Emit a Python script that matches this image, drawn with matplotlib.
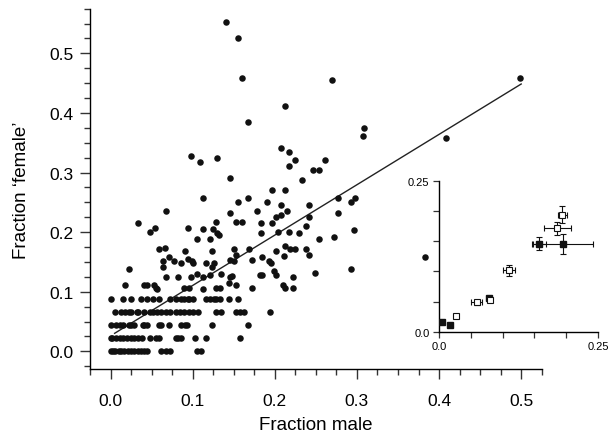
"""Fraction 'female' vs fraction male, with inset of binned means."""

import matplotlib
matplotlib.use("Agg")
import matplotlib.pyplot as plt
from matplotlib.ticker import MultipleLocator

plt.rcParams["font.family"] = ["Liberation Sans", "DejaVu Sans"]
plt.rcParams["axes.linewidth"] = 1.0

# scattered points (fraction male, fraction 'female')
male_frac = [
    0.141, 0.155, 0.160, 0.270, 0.499, 0.212, 0.167, 0.309, 0.307, 0.408,
    0.208, 0.217, 0.098, 0.130, 0.109, 0.224, 0.261, 0.217, 0.247, 0.254,
    0.146, 0.233, 0.197, 0.212, 0.112, 0.167, 0.277, 0.298, 0.155, 0.190,
    0.293, 0.208, 0.242, 0.068, 0.178, 0.215, 0.146, 0.277, 0.201, 0.208,
    0.242, 0.128, 0.153, 0.160, 0.034, 0.183, 0.197, 0.238, 0.054, 0.094,
    0.048, 0.125, 0.112, 0.130, 0.132, 0.183, 0.204, 0.217, 0.229, 0.296,
    0.105, 0.121, 0.254, 0.272, 0.212, 0.219, 0.224, 0.238, 0.242, 0.059,
    0.066, 0.091, 0.123, 0.150, 0.169, 0.201, 0.153, 0.211, 0.071, 0.383,
    0.064, 0.064, 0.077, 0.086, 0.094, 0.099, 0.100, 0.116, 0.126, 0.124,
    0.146, 0.150, 0.172, 0.185, 0.193, 0.195, 0.022, 0.293, 0.068, 0.082,
    0.098, 0.112, 0.222, 0.105, 0.121, 0.135, 0.146, 0.148, 0.182, 0.185,
    0.199, 0.201, 0.249, 0.018, 0.041, 0.045, 0.053, 0.055, 0.057, 0.089,
    0.096, 0.112, 0.128, 0.133, 0.144, 0.153, 0.172, 0.210, 0.212, 0.222,
]
female_frac = [
    0.552, 0.525, 0.459, 0.455, 0.459, 0.412, 0.385, 0.375, 0.362, 0.358,
    0.341, 0.335, 0.328, 0.325, 0.318, 0.321, 0.321, 0.311, 0.305, 0.305,
    0.291, 0.288, 0.271, 0.271, 0.258, 0.258, 0.258, 0.258, 0.251, 0.251,
    0.251, 0.245, 0.245, 0.235, 0.235, 0.235, 0.232, 0.232, 0.225, 0.228,
    0.225, 0.217, 0.217, 0.217, 0.215, 0.215, 0.215, 0.211, 0.207, 0.207,
    0.201, 0.205, 0.205, 0.198, 0.196, 0.198, 0.201, 0.201, 0.198, 0.204,
    0.188, 0.188, 0.188, 0.191, 0.177, 0.171, 0.171, 0.171, 0.161, 0.171,
    0.174, 0.168, 0.168, 0.171, 0.171, 0.168, 0.161, 0.160, 0.158, 0.158,
    0.151, 0.141, 0.151, 0.148, 0.155, 0.151, 0.148, 0.148, 0.148, 0.141,
    0.154, 0.152, 0.154, 0.158, 0.151, 0.148, 0.138, 0.138, 0.124, 0.124,
    0.124, 0.124, 0.124, 0.130, 0.128, 0.130, 0.124, 0.127, 0.128, 0.128,
    0.135, 0.128, 0.131, 0.111, 0.111, 0.111, 0.111, 0.107, 0.104, 0.107,
    0.107, 0.105, 0.107, 0.107, 0.114, 0.111, 0.107, 0.111, 0.107, 0.107,
]

# low values fall on discrete levels
band_levels = [0.0, 0.022, 0.044, 0.066, 0.088]
band_x = [
    [0.0, 0.003, 0.006, 0.010, 0.013, 0.017, 0.021, 0.025, 0.029, 0.033,
     0.037, 0.041, 0.044, 0.062, 0.068, 0.073, 0.105, 0.110],
    [0.0, 0.002, 0.0065, 0.011, 0.015, 0.020, 0.025, 0.029, 0.034, 0.038,
     0.048, 0.055, 0.059, 0.080, 0.082, 0.086, 0.103, 0.116, 0.158],
    [0.0, 0.0065, 0.011, 0.015, 0.022, 0.025, 0.029, 0.039, 0.041, 0.045,
     0.059, 0.062, 0.071, 0.086, 0.091, 0.093, 0.124, 0.167],
    [0.005, 0.013, 0.018, 0.022, 0.025, 0.032, 0.034, 0.041, 0.048, 0.052,
     0.057, 0.062, 0.068, 0.073, 0.080, 0.084, 0.089, 0.096, 0.101, 0.107,
     0.128, 0.135, 0.153, 0.158, 0.162, 0.194],
    [0.0, 0.015, 0.025, 0.037, 0.045, 0.052, 0.059, 0.073, 0.080, 0.086,
     0.089, 0.094, 0.096, 0.101, 0.116, 0.121, 0.126, 0.128, 0.133, 0.144,
     0.155],
]

# regression line
fit_intercept = 0.026
fit_slope = 0.845
fit_x = [0.005, 0.5]

# inset: binned means with error bars
inset_filled_x = [0.004, 0.017, 0.079, 0.157, 0.195]
inset_filled_y = [0.0155, 0.0116, 0.055, 0.146, 0.145]
inset_filled_xerr = [0.002, 0.002, 0.003, 0.0105, 0.047]
inset_filled_yerr = [0.002, 0.002, 0.003, 0.010, 0.016]

inset_open_x = [0.027, 0.059, 0.080, 0.110, 0.186, 0.194]
inset_open_y = [0.026, 0.049, 0.052, 0.102, 0.171, 0.194]
inset_open_xerr = [0.002, 0.0084, 0.003, 0.0097, 0.021, 0.007]
inset_open_yerr = [0.002, 0.004, 0.003, 0.009, 0.011, 0.0146]


def style_axes(ax):
    ax.spines["top"].set_visible(False)
    ax.spines["right"].set_visible(False)
    ax.tick_params(which="both", direction="out", color="#333333")


def main():
    fig = plt.figure(figsize=(6.08, 4.39), dpi=100)

    ax = fig.add_axes([0.148, 0.1567, 0.743, 0.8214])
    style_axes(ax)

    xs = list(male_frac)
    ys = list(female_frac)
    for level, row in zip(band_levels, band_x):
        xs += row
        ys += [level] * len(row)

    ax.scatter(xs, ys, s=22, color="#111111", linewidths=0, zorder=3)

    fit_y = [fit_intercept + fit_slope * x for x in fit_x]
    ax.plot(fit_x, fit_y, color="#222222", lw=1.0, zorder=2)

    ax.set_xlim(-0.025, 0.525)
    ax.set_ylim(-0.03, 0.575)
    ax.set_xticks([0.0, 0.1, 0.2, 0.3, 0.4, 0.5])
    ax.set_yticks([0.0, 0.1, 0.2, 0.3, 0.4, 0.5])
    ax.set_xticklabels(["0.0", "0.1", "0.2", "0.3", "0.4", "0.5"])
    ax.set_yticklabels(["0.0", "0.1", "0.2", "0.3", "0.4", "0.5"])
    ax.xaxis.set_minor_locator(MultipleLocator(0.025))
    ax.yaxis.set_minor_locator(MultipleLocator(0.025))
    ax.tick_params(which="major", length=7, width=1.0, labelsize=12.5, pad=5)
    ax.tick_params(axis="x", which="major", pad=10)
    ax.tick_params(which="minor", length=4, width=1.0)

    ax.set_xlabel("Fraction male", fontsize=13.5, labelpad=6)
    ax.set_ylabel("Fraction \u2018female\u2019", fontsize=13.5, labelpad=14)

    # inset
    ins = fig.add_axes([0.7225, 0.2421, 0.261, 0.344])
    ins.set_facecolor("none")
    style_axes(ins)

    ins.errorbar(inset_filled_x, inset_filled_y,
                 xerr=inset_filled_xerr, yerr=inset_filled_yerr,
                 fmt="s", ms=4, mfc="#111111", mec="#111111",
                 ecolor="#111111", elinewidth=0.8, capsize=2, capthick=0.8,
                 zorder=3)
    ins.errorbar(inset_open_x, inset_open_y,
                 xerr=inset_open_xerr, yerr=inset_open_yerr,
                 fmt="s", ms=4, mfc="white", mec="#111111", mew=0.8,
                 ecolor="#111111", elinewidth=0.8, capsize=2, capthick=0.8,
                 zorder=4)

    ins.set_xlim(0, 0.25)
    ins.set_ylim(0, 0.25)
    ticks = [0.0, 0.05, 0.10, 0.15, 0.20, 0.25]
    ins.set_xticks(ticks)
    ins.set_yticks(ticks)
    ins.set_xticklabels(["0.0", "", "", "", "", "0.25"])
    ins.set_yticklabels(["0.0", "", "", "", "", "0.25"])
    ins.tick_params(length=4, width=0.9, labelsize=8, pad=3)

    fig.savefig("out.png", dpi=100)
    plt.close(fig)


if __name__ == "__main__":
    main()
